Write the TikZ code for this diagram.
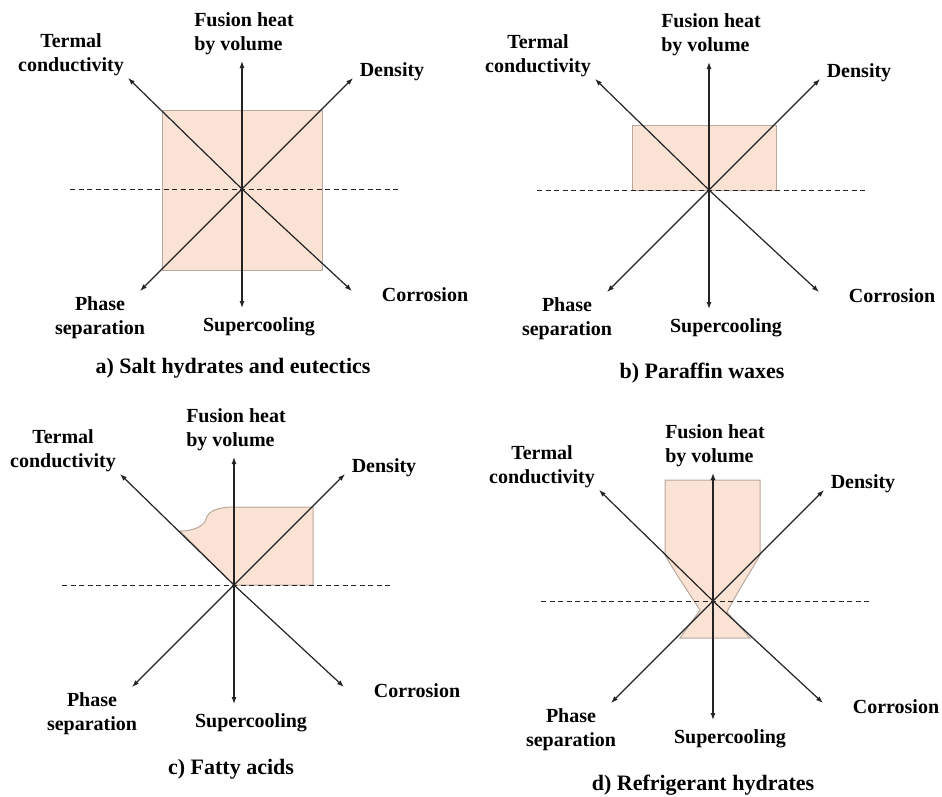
\documentclass[tikz,border=0pt]{standalone}
\usepackage{fontspec}
\setmainfont{Liberation Serif}
\usetikzlibrary{arrows.meta}
\definecolor{peach}{RGB}{250,226,212}
\definecolor{peachedge}{RGB}{185,168,158}
\definecolor{axiscol}{RGB}{35,35,35}
\tikzset{
  axisarrow/.style={draw=axiscol, line width=1.2pt, -{Latex[length=7pt,width=5pt]}},
  zeroline/.style={draw=axiscol, line width=1pt, dash pattern=on 5pt off 3.5pt},
  region/.style={fill=peach, draw=peachedge, line width=1pt},
  lbl/.style={font=\bfseries\fontsize{20}{24}\selectfont, inner sep=0pt, align=center},
  captxt/.style={font=\bfseries\fontsize{22}{26}\selectfont, inner sep=0pt},
}
% #1 prefix, #2 centre, #3 caption, #4 caption offset, #5 region path
\newcommand\radarpanel[5]{%
  \begin{scope}[shift={#2}]
    #5
    \coordinate (#1c) at (0,0);
    \coordinate (#1l) at (-172,0);
    \coordinate (#1r) at (159,0);
    \coordinate (#1u) at (0,-128);
    \coordinate (#1d) at (0,119);
    \coordinate (#1ul) at (-114,-111);
    \coordinate (#1ur) at (111,-111);
    \coordinate (#1dl) at (-102,102);
    \coordinate (#1dr) at (110,102);
    \draw[zeroline] (#1l) -- (#1r);
    \draw[axisarrow] (#1c) -- (#1u);
    \draw[axisarrow] (#1c) -- (#1d);
    \draw[axisarrow] (#1c) -- (#1ul);
    \draw[axisarrow] (#1c) -- (#1ur);
    \draw[axisarrow] (#1c) -- (#1dl);
    \draw[axisarrow] (#1c) -- (#1dr);
    \node[lbl, align=left] (#1fh) at (2,-155) {Fusion heat\\by volume};
    \node[lbl] (#1tc) at (-171,-134) {Termal\\conductivity};
    \node[lbl] (#1de) at (150,-117) {Density};
    \node[lbl] (#1co) at (183,106) {Corrosion};
    \node[lbl] (#1ps) at (-142,129) {Phase\\separation};
    \node[lbl] (#1sc) at (17,138) {Supercooling};
    \node[captxt] (#1cap) at #4 {#3};
  \end{scope}}
\begin{document}
\begin{tikzpicture}[x=1pt, y=-1pt]
  \useasboundingbox (0,0) rectangle (942,796);
  \radarpanel{a}{(242,189)}{a) Salt hydrates and eutectics}{(-9,179)}{%
    \path[region] (-80,-79) rectangle (80,81);}
  \radarpanel{b}{(709,190)}{b) Paraffin waxes}{(-7,183)}{%
    \path[region] (-77,-65) rectangle (67,0);}
  \radarpanel{c}{(234,585)}{c) Fatty acids}{(-3,184)}{%
    \path[region] (-54,-54) .. controls (-42,-54) and (-30,-58) .. (-28,-66)
      .. controls (-26,-74) and (-16,-78) .. (0,-78) -- (79,-78) -- (79,0)
      -- (0,0) -- cycle;}
  \radarpanel{d}{(713,601)}{d) Refrigerant hydrates}{(-10,184)}{%
    \path[region] (-48,-121) -- (47,-121) -- (47,-46)
      .. controls (35,-25) and (22,-5) .. (14,11) -- (37,37) -- (-33,37)
      -- (-13,9) .. controls (-22,-5) and (-36,-25) .. (-48,-46) -- cycle;}
\end{tikzpicture}
\end{document}
